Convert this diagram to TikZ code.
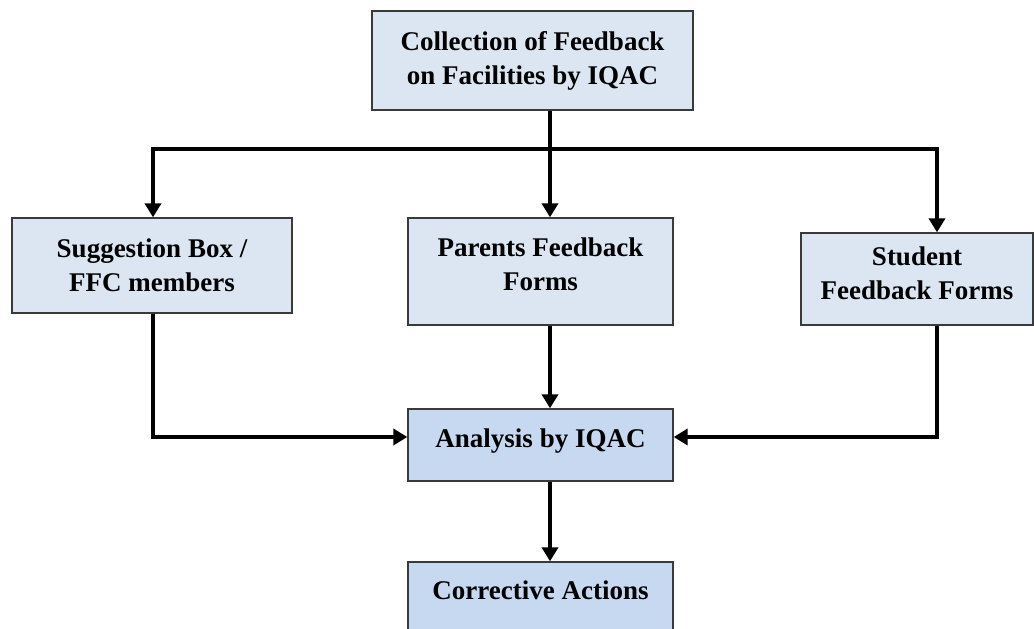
\documentclass[tikz,border=0pt]{standalone}
\usepackage{fontspec}
\setmainfont{Liberation Serif}
\usepackage{tikz}
\usetikzlibrary{arrows.meta, positioning}

\definecolor{boxpale}{HTML}{DCE6F2}
\definecolor{boxblue}{HTML}{C6D9F1}
\definecolor{boxline}{HTML}{3A3A3A}

\begin{document}
\begin{tikzpicture}[x=1pt,y=1pt,
  stagebox/.style={draw=boxline, line width=1.3pt, align=center, inner sep=0pt,
    font=\fontsize{27}{34}\selectfont\bfseries},
  link/.style={line width=3.6pt, line join=miter},
  linkarrow/.style={link, -{Triangle[length=14pt,width=16pt]}}]
  \useasboundingbox (0,0) rectangle (1034,629);

  % --- FEEDBACK COLLECTION ---
  \node[stagebox, fill=boxpale, minimum width=321, minimum height=99] (collect) at (532.5,568.5)
    {Collection of Feedback\\on Facilities by IQAC};

  % --- FEEDBACK SOURCES ---
  \node[stagebox, fill=boxpale, minimum width=280, minimum height=95] (suggest) at (152,363.5)
    {Suggestion Box /\\FFC members};
  \node[stagebox, fill=boxpale, minimum width=265, minimum height=107, text depth=14pt] (parents) at (540.5,357.5)
    {Parents Feedback\\Forms};
  \node[stagebox, fill=boxpale, minimum width=232, minimum height=92, text depth=12pt] (student) at (917,350)
    {Student\\Feedback Forms};

  % --- ANALYSIS AND ACTION ---
  \node[stagebox, fill=boxblue, minimum width=265, minimum height=72, text depth=14pt] (analysis) at (540.5,184)
    {Analysis by IQAC};
  \node[stagebox, fill=boxblue, minimum width=265, minimum height=80, text depth=24pt] (corrective) at (540.5,27)
    {Corrective Actions};

  % Branching bar below the collection box
  \coordinate (split) at (550,480);
  \coordinate (leftend) at (153,480);
  \coordinate (rightend) at (937,480);
  \draw[link] (split |- collect.south) -- (split);
  \draw[linkarrow] (split) -- (leftend) -- (leftend |- suggest.north);
  \draw[linkarrow] (split) -- (split |- parents.north);
  \draw[linkarrow] (split) -- (rightend) -- (rightend |- student.north);

  % Sources into analysis
  \draw[linkarrow] (leftend |- suggest.south) |- ([yshift=8pt]analysis.west);
  \draw[linkarrow] (split |- parents.south) -- (split |- analysis.north);
  \draw[linkarrow] (rightend |- student.south) |- ([yshift=8pt]analysis.east);

  % Analysis to corrective actions
  \draw[linkarrow] (split |- analysis.south) -- (split |- corrective.north);
\end{tikzpicture}
\end{document}
